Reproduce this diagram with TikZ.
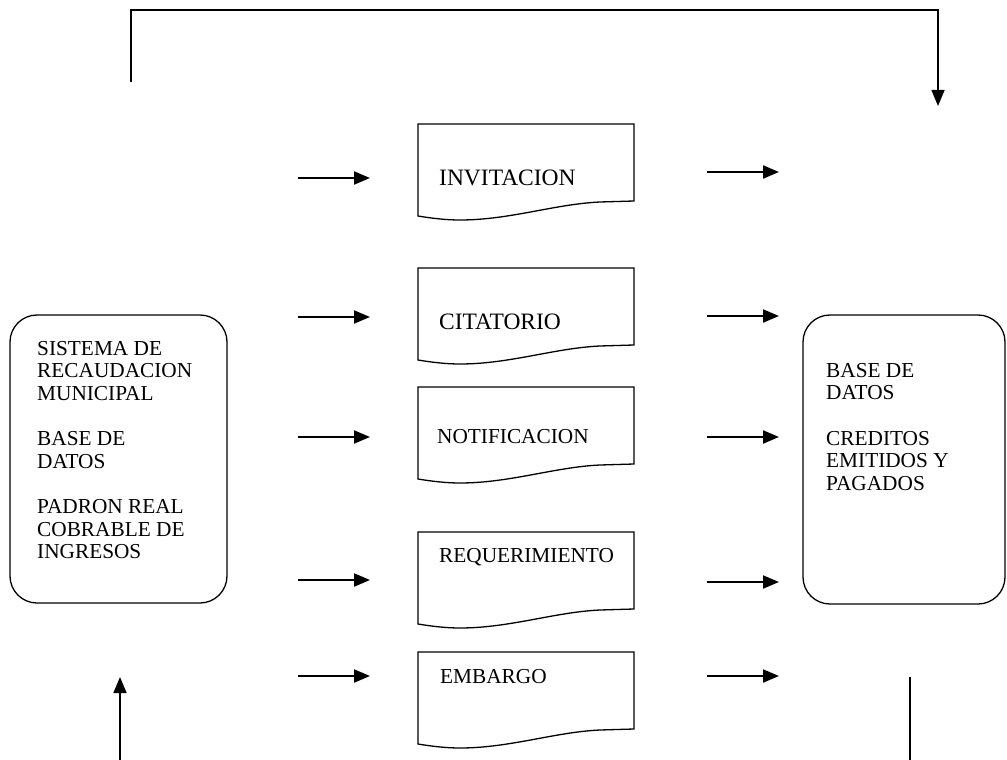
\documentclass[tikz,border=0pt]{standalone}
\usepackage{fontspec}
\setmainfont{Liberation Serif}
\usetikzlibrary{arrows.meta}
\newcommand\DocShape[2]{%
  \coordinate (#1) at (418,#2);
  \draw[docline] (418,#2+92) -- (418,#2) -- (634,#2) -- (634,#2+77) -- (600,#2+78)
    .. controls (555,#2+80) and (510,#2+96) .. (460,#2+96)
    .. controls (445,#2+96) and (430,#2+94) .. cycle;}
\begin{document}
\begin{tikzpicture}[x=1pt,y=-1pt,
  box/.style={draw, line width=1.3pt, rounded corners=27pt, inner sep=0pt},
  docline/.style={line width=1.3pt, line join=miter},
  arr/.style={line width=2pt, -{Triangle[length=16pt,width=13pt]}},
  thin/.style={line width=1.5pt},
  btxt/.style={font=\fontsize{21.3}{22.6}\selectfont, inner sep=0pt, align=left, anchor=north west},
  dtxt/.style={font=\fontsize{21.3}{22.6}\selectfont, inner sep=0pt, anchor=base west},
  bigtxt/.style={font=\fontsize{23.5}{25}\selectfont, inner sep=0pt, anchor=base west}]
\useasboundingbox (0,0) rectangle (1007,760);
\fill[white] (0,0) rectangle (1007,760);

% side boxes
\node[box, minimum width=217pt, minimum height=288pt] (sys) at (118.5,459) {};
\node[box, minimum width=202pt, minimum height=289pt] (db) at (904,459.5) {};
\node[btxt] (systxt) at (37,341) {SISTEMA DE\\RECAUDACION\\MUNICIPAL\\[22.6pt]BASE DE\\DATOS\\[22.6pt]PADRON REAL\\COBRABLE DE\\INGRESOS};
\node[btxt] (dbtxt) at (826,363) {BASE DE\\DATOS\\[22.6pt]CREDITOS\\EMITIDOS Y\\PAGADOS};

% documents
\DocShape{d1}{124}
\DocShape{d2}{268}
\DocShape{d3}{387}
\DocShape{d4}{532}
\DocShape{d5}{652}
\node[bigtxt] (t1) at (439,185) {INVITACION};
\node[bigtxt] (t2) at (439,329) {CITATORIO};
\node[dtxt] (t3) at (437,443) {NOTIFICACION};
\node[dtxt] (t4) at (439,562) {REQUERIMIENTO};
\node[dtxt] (t5) at (440,683) {EMBARGO};

% arrow end points
\coordinate (l1a) at (298,178); \coordinate (l1b) at (370,178);
\coordinate (l2a) at (298,317); \coordinate (l2b) at (370,317);
\coordinate (l3a) at (298,437); \coordinate (l3b) at (370,437);
\coordinate (l4a) at (298,580); \coordinate (l4b) at (370,580);
\coordinate (l5a) at (298,676); \coordinate (l5b) at (370,676);
\coordinate (r1a) at (707,172); \coordinate (r1b) at (779,172);
\coordinate (r2a) at (707,316); \coordinate (r2b) at (779,316);
\coordinate (r3a) at (707,437); \coordinate (r3b) at (779,437);
\coordinate (r4a) at (707,582); \coordinate (r4b) at (779,582);
\coordinate (r5a) at (707,676); \coordinate (r5b) at (779,676);
\foreach \n in {1,...,5}{
  \draw[arr] (l\n a) -- (l\n b);
  \draw[arr] (r\n a) -- (r\n b);
}

% top loop
\coordinate (ta) at (131,82);
\coordinate (tb) at (938,106);
\draw[thin, -{Triangle[length=16pt,width=13pt]}] (ta) -- (131,10) -- (938,10) -- (tb);

% bottom lines
\coordinate (ba) at (120,760);
\coordinate (bb) at (120,677);
\draw[thin, -{Triangle[length=16pt,width=13pt]}] (ba) -- (bb);
\coordinate (bc) at (910,677);
\coordinate (bd) at (910,760);
\draw[thin] (bc) -- (bd);
\end{tikzpicture}
\end{document}
